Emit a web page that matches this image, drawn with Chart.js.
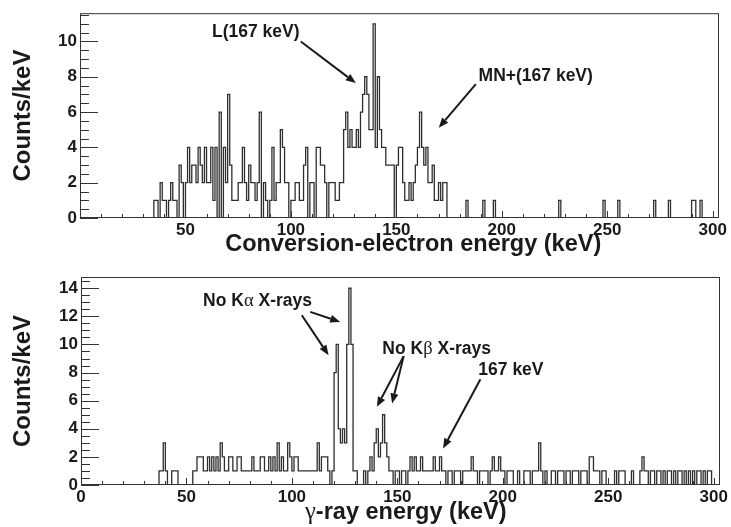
<!DOCTYPE html>
<html>
<head>
<meta charset="utf-8">
<script src="https://cdn.jsdelivr.net/npm/chart.js@4.4.0/dist/chart.umd.min.js"></script>
<style>
  body { margin: 0; background: #fff; }
  #wrap { position: relative; width: 731px; height: 527px; }
  canvas { position: absolute; left: 0; }
</style>
</head>
<body>
<div id="wrap">
  <canvas id="topChart" width="731" height="262" style="top:0;width:731px;height:262px"></canvas>
  <canvas id="botChart" width="731" height="265" style="top:262px;width:731px;height:265px"></canvas>
</div>
<script>
// energy axis (keV), 1 keV bins
var KEV_MAX = 303;
var HIST_END = 300;

// conversion-electron spectrum: counts per 1 keV bin starting at topStart
var topStart = 35;
var topCounts = [
  1, 1, 0, 2, 1, 1, 0, 1, 2, 1,   // 35-44
  1, 0, 3, 2, 0, 2, 4, 2, 3, 3,   // 45-54
  2, 4, 3, 2, 4, 2, 2, 4, 1, 4,   // 55-64
  0, 6, 0, 4, 2, 7, 3, 1, 1, 1,   // 65-74
  2, 2, 4, 2, 1, 3, 2, 2, 1, 2,   // 75-84
  6, 0, 2, 1, 0, 1, 4, 1, 2, 2,   // 85-94
  5, 4, 2, 2, 0, 1, 1, 2, 2, 1,   // 95-104
  1, 3, 4, 0, 2, 2, 0, 4, 4, 3,   // 105-114
  3, 2, 0, 2, 2, 2, 1, 1, 2, 2,   // 115-124
  5, 6, 4, 5, 4, 4, 5, 4, 6, 7,   // 125-134
  8, 7, 5, 5, 11, 4, 8, 5, 4, 4,  // 135-144
  3, 3, 3, 3, 0, 3, 4, 4, 2, 1,   // 145-154
  1, 2, 1, 2, 3, 4, 6, 4, 3, 4,   // 155-164
  2, 2, 3, 1, 1, 2, 1, 2, 2, 0    // 165-174
];
// isolated single counts above the main group
var topSingles = [183, 191, 196, 227, 248, 255, 272, 279, 290, 291, 294];

// gamma-ray spectrum: counts per 1 keV bin starting at botStart
var botStart = 37;
var botCounts = [
  1, 1, 3, 1, 0, 0, 1, 1, 1, 0,   // 37-46
  0, 0, 0, 0, 0, 0, 1, 1, 2, 2,   // 47-56
  2, 1, 1, 2, 1, 2, 1, 2, 1, 3,   // 57-66
  2, 1, 1, 2, 2, 1, 1, 2, 2, 1,   // 67-76
  1, 1, 1, 1, 2, 1, 1, 1, 2, 2,   // 77-86
  1, 1, 2, 1, 2, 1, 3, 1, 2, 1,   // 87-96
  1, 3, 2, 1, 2, 2, 1, 1, 1, 1,   // 97-106
  1, 1, 1, 1, 1, 3, 1, 2, 2, 2,   // 107-116
  1, 0, 1, 8, 10, 4, 3, 4, 3, 10, // 117-126
  14, 10, 1, 1, 0, 0, 0, 1, 0, 1, // 127-136
  2, 1, 3, 4, 2, 3, 5, 3, 2, 1,   // 137-146
  1, 0, 1, 1, 0, 1, 1, 0, 1, 2,   // 147-156
  1, 2, 1, 1, 2, 1, 1, 1, 1, 1,   // 157-166
  2, 1, 1, 2, 1, 1, 0, 1, 1, 0,   // 167-176
  1, 1, 1, 0, 1, 1, 1, 1, 2, 1,   // 177-186
  1, 0, 1, 1, 1, 1, 0, 1, 2, 1,   // 187-196
  1, 2, 1, 1, 0, 1, 1, 1, 0, 0,   // 197-206
  1, 0, 0, 1, 1, 1, 0, 1, 1, 1,   // 207-216
  3, 1, 0, 1, 0, 0, 1, 1, 0, 1,   // 217-226
  1, 1, 0, 1, 1, 0, 1, 1, 1, 0,   // 227-236
  1, 1, 1, 0, 2, 2, 1, 1, 1, 0,   // 237-246
  1, 1, 0, 0, 0, 0, 1, 0, 1, 1,   // 247-256
  1, 0, 0, 0, 1, 0, 0, 0, 1, 2,   // 257-266
  1, 1, 0, 1, 1, 0, 1, 1, 0, 1,   // 267-276
  0, 1, 1, 0, 1, 0, 1, 1, 0, 1,   // 277-286
  0, 1, 0, 1, 0, 1, 1, 0, 1, 0,   // 287-296
  1, 1, 0                         // 297-299
];

var xTicks = [0, 50, 100, 150, 200, 250, 300];

function buildHist(start, counts, singles) {
  var pts = [];
  for (var e = 0; e < HIST_END; e++) {
    var c = 0;
    if (e >= start && e < start + counts.length) c = counts[e - start];
    if (singles && singles.indexOf(e) >= 0) c += 1;
    pts.push({ x: e, y: c });
  }
  pts.push({ x: HIST_END, y: 0 });
  return pts;
}

var INK = '#1a1a1a';
var FONT = 'Liberation Sans, Arial, Helvetica, sans-serif';

// draw a run of text pieces (bold sans, greek letters in serif) from x
function drawParts(ctx, parts, x, y, size, align) {
  ctx.textBaseline = 'middle';
  ctx.textAlign = 'left';
  ctx.fillStyle = INK;
  var fonts = parts.map(function(p) {
    return p.greek ? (size + 1) + 'px "Liberation Serif", serif' : 'bold ' + size + 'px ' + FONT;
  });
  if (align === 'center') {
    var w = 0;
    parts.forEach(function(p, i) { ctx.font = fonts[i]; w += ctx.measureText(p.t).width; });
    x -= w / 2;
  }
  parts.forEach(function(p, i) {
    ctx.font = fonts[i];
    ctx.fillText(p.t, x, y);
    x += ctx.measureText(p.t).width;
  });
}

// frame, inside ticks (ROOT style), axis title and the text/arrow notes
var rootFrame = {
  id: 'rootFrame',
  afterDraw: function(chart, args, opts) {
    var ctx = chart.ctx, a = chart.chartArea, xs = chart.scales.x, ys = chart.scales.y;
    ctx.save();
    ctx.strokeStyle = '#333';
    ctx.lineWidth = 1;
    ctx.strokeRect(a.left + 0.5, a.top + 0.5, a.right - a.left - 1, a.bottom - a.top - 1);
    ctx.beginPath();
    for (var i = 0; i * 10 <= xs.max; i++) {
      var px = Math.round(xs.getPixelForValue(i * 10)) + 0.5;
      var len = (i % 5 === 0) ? 7 : 4;
      ctx.moveTo(px, a.bottom);
      ctx.lineTo(px, a.bottom - len);
    }
    for (var j = 0; j * 0.5 <= ys.max; j++) {
      var py = Math.round(ys.getPixelForValue(j * 0.5)) + 0.5;
      var l2 = (j % 4 === 0) ? 18 : 9;
      ctx.moveTo(a.left, py);
      ctx.lineTo(a.left + l2, py);
    }
    ctx.stroke();

    // x axis title
    drawParts(ctx, opts.title.parts, xs.getPixelForValue(opts.title.at), a.bottom + opts.title.dy, 23.5, 'center');

    (opts.notes || []).forEach(function(n) {
      drawParts(ctx, n.parts, xs.getPixelForValue(n.at[0]), ys.getPixelForValue(n.at[1]), 17.5, 'left');
    });

    (opts.arrows || []).forEach(function(ar) {
      var x0 = xs.getPixelForValue(ar.from[0]), y0 = ys.getPixelForValue(ar.from[1]);
      var x1 = xs.getPixelForValue(ar.to[0]), y1 = ys.getPixelForValue(ar.to[1]);
      var ang = Math.atan2(y1 - y0, x1 - x0);
      var head = 10, half = 4;
      ctx.strokeStyle = INK;
      ctx.fillStyle = INK;
      ctx.lineWidth = 2;
      ctx.beginPath();
      ctx.moveTo(x0, y0);
      ctx.lineTo(x1 - head * Math.cos(ang), y1 - head * Math.sin(ang));
      ctx.stroke();
      ctx.beginPath();
      ctx.moveTo(x1, y1);
      ctx.lineTo(x1 - head * Math.cos(ang) + half * Math.sin(ang), y1 - head * Math.sin(ang) - half * Math.cos(ang));
      ctx.lineTo(x1 - head * Math.cos(ang) - half * Math.sin(ang), y1 - head * Math.sin(ang) + half * Math.cos(ang));
      ctx.closePath();
      ctx.fill();
    });
    ctx.restore();
  }
};

function makeChart(id, cfg) {
  return new Chart(document.getElementById(id), {
    type: 'line',
    data: {
      datasets: [{
        data: cfg.points,
        stepped: true,
        borderColor: '#2e2e2e',
        borderWidth: 1.3,
        pointRadius: 0,
        fill: false
      }]
    },
    options: {
      responsive: false,
      animation: false,
      events: [],
      layout: { autoPadding: false, padding: cfg.padding },
      plugins: {
        legend: { display: false },
        tooltip: { enabled: false },
        rootFrame: { notes: cfg.notes, arrows: cfg.arrows, title: cfg.xTitle }
      },
      scales: {
        x: {
          type: 'linear',
          min: 0,
          max: KEV_MAX,
          afterBuildTicks: function(s) {
            s.ticks = xTicks.filter(function(v) { return cfg.showZero || v !== 0; }).map(function(v) { return { value: v }; });
          },
          afterFit: function(s) { s.height = cfg.xHeight; },
          grid: { display: false, drawTicks: false },
          border: { display: false },
          ticks: {
            autoSkip: false, maxRotation: 0, padding: cfg.xPad, color: INK,
            font: { family: FONT, weight: 'bold', size: 17 }
          }
        },
        y: {
          min: 0,
          max: cfg.yMax,
          afterBuildTicks: function(s) {
            var t = [];
            for (var v = 0; v <= cfg.yMax; v += 2) t.push({ value: v });
            s.ticks = t;
          },
          afterFit: function(s) { s.width = cfg.yWidth; },
          grid: { display: false, drawTicks: false },
          border: { display: false },
          ticks: {
            padding: 3, color: INK,
            font: { family: FONT, weight: 'bold', size: 17 }
          },
          title: {
            display: true, text: 'Counts/keV', color: INK,
            font: { family: FONT, weight: 'bold', size: 24 },
            padding: { top: 9, bottom: 0 }
          }
        }
      }
    },
    plugins: [rootFrame]
  });
}

makeChart('topChart', {
  points: buildHist(topStart, topCounts, topSingles),
  padding: { top: 12, right: 12, left: 0, bottom: 0 },
  xHeight: 44, yWidth: 80, yMax: 11.6, xPad: 2, showZero: false,
  xTitle: { parts: [{ t: 'Conversion-electron energy (keV)' }], at: 158, dy: 27 },
  notes: [
    { parts: [{ t: 'L(167 keV)' }], at: [62.6, 10.5] },
    { parts: [{ t: 'MN+(167 keV)' }], at: [189, 8.06] }
  ],
  arrows: [
    { from: [104.7, 10.0], to: [130.8, 7.64] },
    { from: [187.7, 7.58], to: [170.1, 5.11] }
  ]
});

makeChart('botChart', {
  points: buildHist(botStart, botCounts, null),
  padding: { top: 15, right: 11, left: 0, bottom: 0 },
  xHeight: 42, yWidth: 81, yMax: 14.8, xPad: 2, showZero: true,
  xTitle: { parts: [{ t: 'γ', greek: true }, { t: '-ray energy (keV)' }], at: 154, dy: 28 },
  notes: [
    { parts: [{ t: 'No K' }, { t: 'α', greek: true }, { t: ' X-rays' }], at: [57.9, 13.08] },
    { parts: [{ t: 'No K' }, { t: 'β', greek: true }, { t: ' X-rays' }], at: [142.9, 9.7] },
    { parts: [{ t: '167 keV' }], at: [188.4, 8.2] }
  ],
  arrows: [
    { from: [104.7, 12.08], to: [117.4, 9.24] },
    { from: [108.7, 12.32], to: [122.9, 11.6] },
    { from: [153, 9.17], to: [140.3, 5.56] },
    { from: [153, 9.17], to: [147.5, 5.8] },
    { from: [189.4, 7.53], to: [171.7, 2.6] }
  ]
});
</script>
</body>
</html>
